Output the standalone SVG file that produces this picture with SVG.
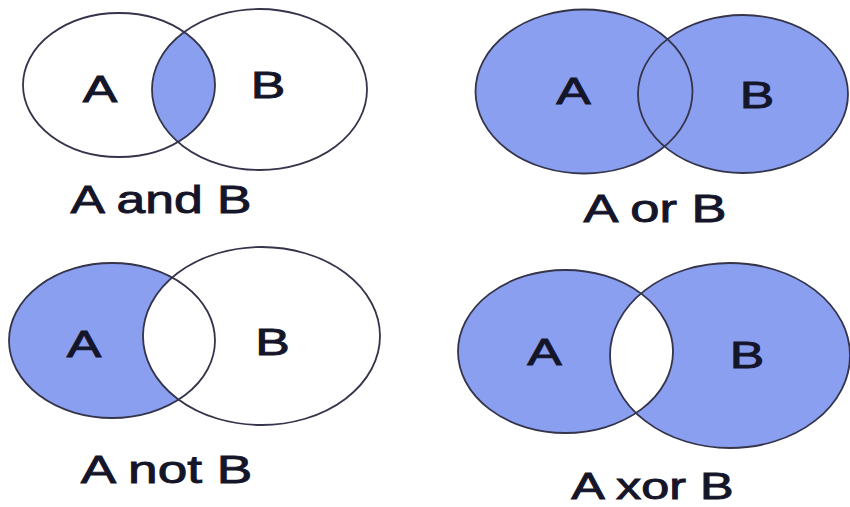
<svg xmlns="http://www.w3.org/2000/svg" width="850" height="507" viewBox="0 0 850 507">
  <style>
    .set { stroke: none; }
    .on { fill: #8b9ff0; }
    .off { fill: #ffffff; }
    .edge { fill: none; stroke: #34344a; stroke-width: 1.8; }
    .lbl { font-family: "Liberation Sans", Arial, sans-serif; fill: #15152a; stroke: #15152a; stroke-width: 0.9; text-anchor: middle; }
    .big { font-size: 37px; }
    .cap { font-size: 38px; }
  </style>
  <defs>
    <clipPath id="clipAndA"><ellipse cx="119" cy="85" rx="96" ry="72"/></clipPath>
    <clipPath id="clipXorA"><ellipse cx="565.5" cy="351.5" rx="107.5" ry="81.5"/></clipPath>
  </defs>
  <rect width="850" height="507" fill="#ffffff"/>

  <!-- A and B: only the overlap is shaded -->
  <g id="and-diagram">
    <ellipse class="set off" cx="119" cy="85" rx="96" ry="72"/>
    <ellipse class="set off" cx="259.5" cy="89.5" rx="107.5" ry="80.5"/>
    <ellipse class="set on" cx="259.5" cy="89.5" rx="107.5" ry="80.5" clip-path="url(#clipAndA)"/>
    <ellipse class="edge" cx="119" cy="85" rx="96" ry="72"/>
    <ellipse class="edge" cx="259.5" cy="89.5" rx="107.5" ry="80.5"/>
    <text class="lbl big" transform="translate(100 102) scale(1.4 1)">A</text>
    <text class="lbl big" transform="translate(268 98) scale(1.4 1)">B</text>
    <text class="lbl cap" transform="translate(161 213) scale(1.36 1)">A and B</text>
  </g>

  <!-- A or B: both sets shaded -->
  <g id="or-diagram">
    <ellipse class="set on" cx="584" cy="91.5" rx="108.5" ry="82"/>
    <ellipse class="set on" cx="743" cy="94" rx="105" ry="79"/>
    <ellipse class="edge" cx="584" cy="91.5" rx="108.5" ry="82"/>
    <ellipse class="edge" cx="743" cy="94" rx="105" ry="79"/>
    <text class="lbl big" transform="translate(573.5 104) scale(1.4 1)">A</text>
    <text class="lbl big" transform="translate(757 108) scale(1.4 1)">B</text>
    <text class="lbl cap" transform="translate(655 222) scale(1.38 1)">A or B</text>
  </g>

  <!-- A not B: A without the overlap -->
  <g id="not-diagram">
    <ellipse class="set on" cx="112" cy="340.5" rx="103" ry="77.5"/>
    <ellipse class="set off" cx="261.5" cy="336" rx="118.5" ry="89"/>
    <ellipse class="edge" cx="112" cy="340.5" rx="103" ry="77.5"/>
    <ellipse class="edge" cx="261.5" cy="336" rx="118.5" ry="89"/>
    <text class="lbl big" transform="translate(84 357) scale(1.4 1)">A</text>
    <text class="lbl big" transform="translate(272.5 355) scale(1.4 1)">B</text>
    <text class="lbl cap" transform="translate(166.5 483) scale(1.4 1)">A not B</text>
  </g>

  <!-- A xor B: both sets shaded except the overlap -->
  <g id="xor-diagram">
    <ellipse class="set on" cx="565.5" cy="351.5" rx="107.5" ry="81.5"/>
    <ellipse class="set on" cx="730" cy="355.5" rx="120" ry="92.5"/>
    <ellipse class="set off" cx="730" cy="355.5" rx="120" ry="92.5" clip-path="url(#clipXorA)"/>
    <ellipse class="edge" cx="565.5" cy="351.5" rx="107.5" ry="81.5"/>
    <ellipse class="edge" cx="730" cy="355.5" rx="120" ry="92.5"/>
    <text class="lbl big" transform="translate(544.5 365) scale(1.4 1)">A</text>
    <text class="lbl big" transform="translate(747 368) scale(1.4 1)">B</text>
    <text class="lbl" font-size="36" transform="translate(652.5 499) scale(1.4 1)">A xor B</text>
  </g>
</svg>
